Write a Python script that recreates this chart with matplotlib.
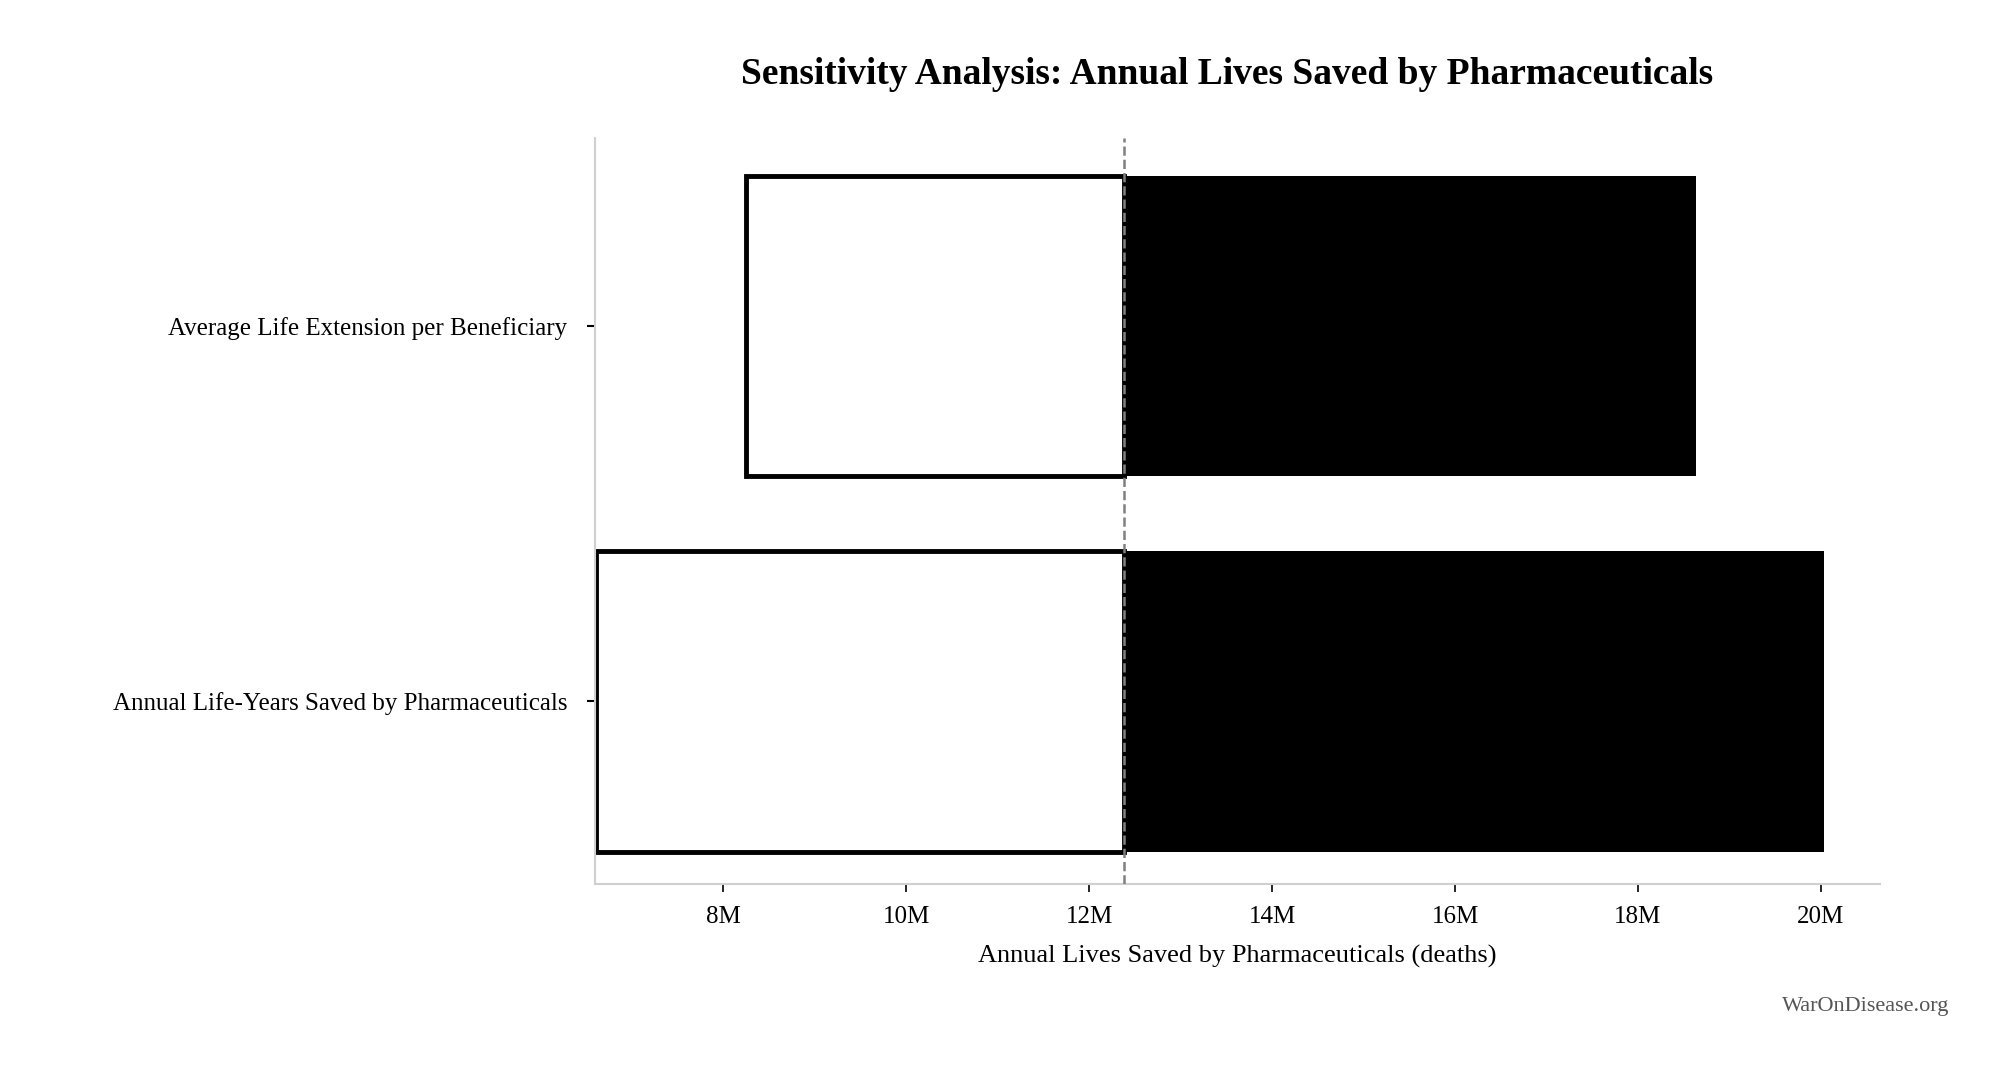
import matplotlib
matplotlib.use("Agg")
import matplotlib.pyplot as plt
from matplotlib.ticker import FuncFormatter

categories = ["Annual Life-Years Saved by Pharmaceuticals", "Average Life Extension per Beneficiary"]
low_values = [6.61e6, 8.25e6]
high_values = [20.03e6, 18.63e6]
baseline = 12.38e6

plt.rcParams['font.family'] = ['Liberation Serif', 'DejaVu Serif']
fig = plt.figure(figsize=(19.91, 10.71), dpi=100)
ax = fig.add_axes([0.299, 0.175, 0.645, 0.696])

ys = list(range(len(categories)))
for y, lo, hi in zip(ys, low_values, high_values):
    ax.barh(y, baseline - lo, left=lo, height=0.8, color='white', edgecolor='black', linewidth=3.5, zorder=2)
    ax.barh(y, hi - baseline, left=baseline, height=0.8, color='black', edgecolor='black', linewidth=0, zorder=2)
ax.axvline(baseline, color='gray', linestyle='--', linewidth=1.8, zorder=3)

ax.set_yticks(ys)
ax.set_yticklabels(categories, fontsize=18)
ax.set_xlim(6.6e6, 20.64e6)
ax.set_ylim(-0.485, 1.5)
ax.set_xticks([8e6, 10e6, 12e6, 14e6, 16e6, 18e6, 20e6])
ax.xaxis.set_major_formatter(FuncFormatter(lambda v, p: f"{v/1e6:.0f}M"))
ax.tick_params(axis='x', labelsize=18, length=6, width=1.2, pad=10)
ax.tick_params(axis='y', length=6, width=1.5, pad=14)
for s in ['top', 'right']:
    ax.spines[s].set_visible(False)
for s in ['left', 'bottom']:
    ax.spines[s].set_color('#d0d0d0')
    ax.spines[s].set_linewidth(1.5)
ax.set_xlabel("Annual Lives Saved by Pharmaceuticals (deaths)", fontsize=19, labelpad=12)
fig.text(0.6165, 0.93, "Sensitivity Analysis: Annual Lives Saved by Pharmaceuticals",
         ha='center', va='center', fontsize=27, fontweight='bold')
fig.text(0.979, 0.06, "WarOnDisease.org", ha='right', va='center', fontsize=16, color='#555555')
fig.savefig("out.png", dpi=100, facecolor='white')
